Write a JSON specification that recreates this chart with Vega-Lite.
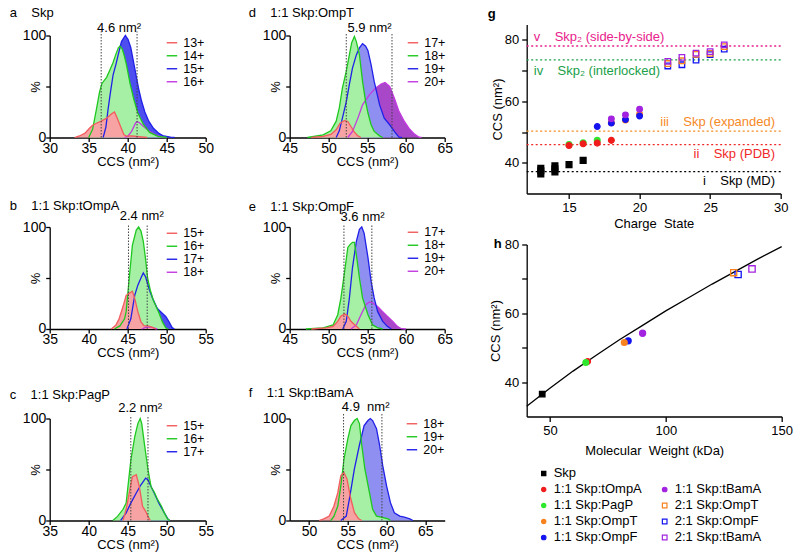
{
"$schema": "https://vega.github.io/schema/vega-lite/v6.json",
"padding": {"left": 9.7, "top": 6.5, "right": 2, "bottom": 2},
"background": "white",
"config": {
 "font": "Liberation Sans",
 "view": {"stroke": null},
 "axis": {"grid": false, "domainColor": "#000", "tickColor": "#000", "labelColor": "#000", "titleColor": "#000", "domainWidth": 1.3, "tickWidth": 1.3, "tickSize": 4, "labelFontSize": 14, "titleFontSize": 13, "titleFontWeight": "normal", "labelPadding": 0, "labelFlush": false, "labelOverlap": false, "labelFont": "Liberation Sans", "titleFont": "Liberation Sans"},
 "axisX": {"titlePadding": 0},
 "axisY": {"titlePadding": -20},
 "title": {"font": "Liberation Sans", "fontSize": 13, "fontWeight": "normal", "color": "#000", "anchor": "start", "baseline": "alphabetic", "frame": "group"},
 "legend": {"symbolType": "stroke", "symbolStrokeWidth": 1.4, "symbolSize": 110, "labelFontSize": 12.5, "labelFont": "Liberation Sans", "labelColor": "#000", "padding": 0, "labelOffset": 5},
 "text": {"font": "Liberation Sans", "fontSize": 13, "color": "#000"}
},
"datasets": {
 "ca": [
  {"x":39.6,"p":0,"z":"16+"},{"x":40.0,"p":1,"z":"16+"},{"x":40.5,"p":6,"z":"16+"},{"x":41.0,"p":14,"z":"16+"},{"x":41.2,"p":15.6,"z":"16+"},{"x":41.5,"p":14.5,"z":"16+"},{"x":42.0,"p":11,"z":"16+"},{"x":42.8,"p":6,"z":"16+"},{"x":43.7,"p":2,"z":"16+"},{"x":44.3,"p":0.5,"z":"16+"},{"x":45.0,"p":0,"z":"16+"},
  {"x":36.85,"p":0,"z":"15+"},{"x":37.2,"p":10,"z":"15+"},{"x":37.5,"p":28.6,"z":"15+"},{"x":37.8,"p":45,"z":"15+"},{"x":38.13,"p":61.5,"z":"15+"},{"x":38.5,"p":72,"z":"15+"},{"x":38.78,"p":81,"z":"15+"},{"x":39.2,"p":94,"z":"15+"},{"x":39.7,"p":100,"z":"15+"},{"x":40.05,"p":96,"z":"15+"},{"x":40.4,"p":88,"z":"15+"},{"x":40.8,"p":72,"z":"15+"},{"x":41.1,"p":60,"z":"15+"},{"x":41.4,"p":48,"z":"15+"},{"x":41.8,"p":35,"z":"15+"},{"x":42.2,"p":25,"z":"15+"},{"x":42.7,"p":16,"z":"15+"},{"x":43.3,"p":9,"z":"15+"},{"x":44.0,"p":4,"z":"15+"},{"x":44.6,"p":1.5,"z":"15+"},{"x":45.5,"p":0.3,"z":"15+"},{"x":46.0,"p":0,"z":"15+"},
  {"x":35.0,"p":0,"z":"14+"},{"x":35.5,"p":8,"z":"14+"},{"x":36.0,"p":28,"z":"14+"},{"x":36.4,"p":45,"z":"14+"},{"x":36.7,"p":53,"z":"14+"},{"x":37.0,"p":56,"z":"14+"},{"x":37.3,"p":59,"z":"14+"},{"x":37.7,"p":66,"z":"14+"},{"x":38.1,"p":73,"z":"14+"},{"x":38.5,"p":82,"z":"14+"},{"x":38.8,"p":88,"z":"14+"},{"x":39.0,"p":89.5,"z":"14+"},{"x":39.3,"p":87,"z":"14+"},{"x":39.6,"p":79,"z":"14+"},{"x":39.85,"p":71,"z":"14+"},{"x":40.3,"p":53,"z":"14+"},{"x":40.8,"p":37,"z":"14+"},{"x":41.3,"p":24,"z":"14+"},{"x":42.0,"p":13,"z":"14+"},{"x":42.8,"p":5,"z":"14+"},{"x":43.9,"p":1.2,"z":"14+"},{"x":45.0,"p":0,"z":"14+"},
  {"x":33.2,"p":0,"z":"13+"},{"x":33.8,"p":1.5,"z":"13+"},{"x":34.5,"p":4,"z":"13+"},{"x":35.1,"p":9,"z":"13+"},{"x":35.5,"p":12,"z":"13+"},{"x":36.0,"p":14,"z":"13+"},{"x":36.6,"p":16,"z":"13+"},{"x":37.3,"p":19,"z":"13+"},{"x":37.9,"p":23,"z":"13+"},{"x":38.3,"p":25,"z":"13+"},{"x":38.6,"p":20,"z":"13+"},{"x":39.1,"p":10.5,"z":"13+"},{"x":39.5,"p":3,"z":"13+"},{"x":39.85,"p":1.3,"z":"13+"},{"x":40.5,"p":1.5,"z":"13+"},{"x":41.2,"p":1,"z":"13+"},{"x":42.5,"p":0,"z":"13+"}
 ],
 "cb": [
  {"x":46.8,"p":0,"z":"18+"},{"x":47.3,"p":1.5,"z":"18+"},{"x":47.8,"p":2,"z":"18+"},{"x":48.3,"p":1,"z":"18+"},{"x":48.8,"p":0,"z":"18+"},
  {"x":44.9,"p":0,"z":"17+"},{"x":45.4,"p":10,"z":"17+"},{"x":45.9,"p":33,"z":"17+"},{"x":46.3,"p":43,"z":"17+"},{"x":46.7,"p":50,"z":"17+"},{"x":47.0,"p":55,"z":"17+"},{"x":47.3,"p":51,"z":"17+"},{"x":47.8,"p":38,"z":"17+"},{"x":48.2,"p":30,"z":"17+"},{"x":48.8,"p":20,"z":"17+"},{"x":49.5,"p":15,"z":"17+"},{"x":49.9,"p":12,"z":"17+"},{"x":50.3,"p":7,"z":"17+"},{"x":50.7,"p":1.3,"z":"17+"},{"x":51.0,"p":0,"z":"17+"},
  {"x":43.3,"p":0,"z":"16+"},{"x":44.0,"p":3,"z":"16+"},{"x":44.6,"p":10,"z":"16+"},{"x":44.8,"p":17,"z":"16+"},{"x":45.2,"p":50,"z":"16+"},{"x":45.6,"p":82,"z":"16+"},{"x":46.1,"p":97,"z":"16+"},{"x":46.4,"p":100,"z":"16+"},{"x":46.7,"p":96,"z":"16+"},{"x":47.0,"p":86,"z":"16+"},{"x":47.3,"p":68,"z":"16+"},{"x":47.55,"p":50,"z":"16+"},{"x":47.9,"p":38,"z":"16+"},{"x":48.3,"p":28,"z":"16+"},{"x":48.7,"p":21,"z":"16+"},{"x":49.0,"p":16,"z":"16+"},{"x":49.45,"p":7,"z":"16+"},{"x":49.9,"p":1,"z":"16+"},{"x":50.2,"p":0,"z":"16+"},
  {"x":42.9,"p":0,"z":"15+"},{"x":43.5,"p":4,"z":"15+"},{"x":43.9,"p":10,"z":"15+"},{"x":44.4,"p":22,"z":"15+"},{"x":44.8,"p":33,"z":"15+"},{"x":45.2,"p":35,"z":"15+"},{"x":45.6,"p":37,"z":"15+"},{"x":45.9,"p":30,"z":"15+"},{"x":46.3,"p":17,"z":"15+"},{"x":46.7,"p":7,"z":"15+"},{"x":47.1,"p":3,"z":"15+"},{"x":47.6,"p":3,"z":"15+"},{"x":48.2,"p":1.6,"z":"15+"},{"x":48.6,"p":0,"z":"15+"}
 ],
 "cc": [
  {"x":44.1,"p":0,"z":"17+"},{"x":44.8,"p":7.5,"z":"17+"},{"x":45.4,"p":17,"z":"17+"},{"x":46.1,"p":27,"z":"17+"},{"x":46.7,"p":35,"z":"17+"},{"x":47.3,"p":41.5,"z":"17+"},{"x":47.6,"p":40,"z":"17+"},{"x":48.0,"p":33,"z":"17+"},{"x":48.4,"p":27,"z":"17+"},{"x":49.0,"p":17,"z":"17+"},{"x":49.7,"p":7.5,"z":"17+"},{"x":50.2,"p":1,"z":"17+"},{"x":50.4,"p":0,"z":"17+"},
  {"x":43.1,"p":0,"z":"16+"},{"x":43.7,"p":4,"z":"16+"},{"x":44.4,"p":11,"z":"16+"},{"x":44.8,"p":17,"z":"16+"},{"x":45.4,"p":59,"z":"16+"},{"x":45.9,"p":82,"z":"16+"},{"x":46.3,"p":95,"z":"16+"},{"x":46.6,"p":100,"z":"16+"},{"x":46.8,"p":95,"z":"16+"},{"x":47.2,"p":72,"z":"16+"},{"x":47.6,"p":50,"z":"16+"},{"x":48.0,"p":33,"z":"16+"},{"x":48.4,"p":28,"z":"16+"},{"x":48.8,"p":21,"z":"16+"},{"x":49.3,"p":14.5,"z":"16+"},{"x":49.7,"p":7.5,"z":"16+"},{"x":50.1,"p":1.6,"z":"16+"},{"x":50.4,"p":0,"z":"16+"},
  {"x":44.4,"p":0,"z":"15+"},{"x":44.8,"p":11,"z":"15+"},{"x":45.2,"p":27,"z":"15+"},{"x":45.6,"p":43,"z":"15+"},{"x":46.1,"p":45,"z":"15+"},{"x":46.5,"p":33,"z":"15+"},{"x":46.9,"p":14,"z":"15+"},{"x":47.3,"p":9,"z":"15+"},{"x":47.7,"p":2.6,"z":"15+"},{"x":47.9,"p":0,"z":"15+"}
 ],
 "cd": [
  {"x":52.5,"p":0,"z":"20+"},{"x":53.1,"p":6,"z":"20+"},{"x":53.8,"p":19,"z":"20+"},{"x":54.4,"p":32,"z":"20+"},{"x":55.3,"p":42,"z":"20+"},{"x":56.1,"p":48.5,"z":"20+"},{"x":56.8,"p":52.5,"z":"20+"},{"x":57.3,"p":54,"z":"20+"},{"x":57.9,"p":50,"z":"20+"},{"x":58.5,"p":38.7,"z":"20+"},{"x":59.1,"p":25.6,"z":"20+"},{"x":59.8,"p":15.7,"z":"20+"},{"x":60.4,"p":9,"z":"20+"},{"x":61.1,"p":3.3,"z":"20+"},{"x":61.7,"p":0.3,"z":"20+"},{"x":62.0,"p":0,"z":"20+"},
  {"x":51.0,"p":0,"z":"19+"},{"x":51.4,"p":6.5,"z":"19+"},{"x":51.8,"p":19,"z":"19+"},{"x":52.3,"p":35,"z":"19+"},{"x":52.7,"p":52,"z":"19+"},{"x":53.1,"p":68,"z":"19+"},{"x":53.6,"p":81,"z":"19+"},{"x":54.0,"p":88,"z":"19+"},{"x":54.4,"p":92,"z":"19+"},{"x":54.8,"p":89.5,"z":"19+"},{"x":55.1,"p":85,"z":"19+"},{"x":55.5,"p":71.5,"z":"19+"},{"x":55.9,"p":55,"z":"19+"},{"x":56.6,"p":32,"z":"19+"},{"x":57.2,"p":19,"z":"19+"},{"x":57.9,"p":12.5,"z":"19+"},{"x":58.5,"p":6,"z":"19+"},{"x":59.1,"p":0.3,"z":"19+"},{"x":59.5,"p":0,"z":"19+"},
  {"x":47.3,"p":0,"z":"18+"},{"x":49.3,"p":2.6,"z":"18+"},{"x":50.3,"p":6.5,"z":"18+"},{"x":51.0,"p":16,"z":"18+"},{"x":51.4,"p":29,"z":"18+"},{"x":51.8,"p":48.5,"z":"18+"},{"x":52.3,"p":65,"z":"18+"},{"x":52.7,"p":81,"z":"18+"},{"x":53.0,"p":93,"z":"18+"},{"x":53.35,"p":99,"z":"18+"},{"x":53.6,"p":94,"z":"18+"},{"x":54.0,"p":81,"z":"18+"},{"x":54.4,"p":55,"z":"18+"},{"x":54.8,"p":35,"z":"18+"},{"x":55.1,"p":24,"z":"18+"},{"x":55.5,"p":12.5,"z":"18+"},{"x":55.9,"p":6,"z":"18+"},{"x":56.6,"p":1.6,"z":"18+"},{"x":57.0,"p":0,"z":"18+"},
  {"x":47.8,"p":0,"z":"17+"},{"x":49.3,"p":1,"z":"17+"},{"x":50.3,"p":3,"z":"17+"},{"x":51.0,"p":7.5,"z":"17+"},{"x":51.5,"p":14,"z":"17+"},{"x":52.1,"p":16.7,"z":"17+"},{"x":52.5,"p":15.7,"z":"17+"},{"x":52.9,"p":10.8,"z":"17+"},{"x":53.35,"p":5.2,"z":"17+"},{"x":53.8,"p":1.6,"z":"17+"},{"x":54.2,"p":0,"z":"17+"}
 ],
 "ce": [
  {"x":52.9,"p":0,"z":"20+"},{"x":53.6,"p":4,"z":"20+"},{"x":54.2,"p":14,"z":"20+"},{"x":54.85,"p":24,"z":"20+"},{"x":55.3,"p":26.5,"z":"20+"},{"x":55.7,"p":25.6,"z":"20+"},{"x":56.35,"p":22,"z":"20+"},{"x":57.0,"p":17,"z":"20+"},{"x":57.6,"p":12.5,"z":"20+"},{"x":58.3,"p":7.5,"z":"20+"},{"x":58.9,"p":2.6,"z":"20+"},{"x":59.4,"p":0.3,"z":"20+"},{"x":60.0,"p":0,"z":"20+"},
  {"x":51.85,"p":0,"z":"19+"},{"x":52.3,"p":7.5,"z":"19+"},{"x":52.7,"p":30,"z":"19+"},{"x":53.1,"p":60,"z":"19+"},{"x":53.6,"p":86,"z":"19+"},{"x":54.0,"p":97.7,"z":"19+"},{"x":54.3,"p":100,"z":"19+"},{"x":54.6,"p":94,"z":"19+"},{"x":55.1,"p":70,"z":"19+"},{"x":55.5,"p":47,"z":"19+"},{"x":55.9,"p":30.5,"z":"19+"},{"x":56.35,"p":17,"z":"19+"},{"x":57.0,"p":7.5,"z":"19+"},{"x":57.6,"p":2.6,"z":"19+"},{"x":58.1,"p":0,"z":"19+"},
  {"x":47.1,"p":0,"z":"18+"},{"x":49.3,"p":1,"z":"18+"},{"x":50.6,"p":4,"z":"18+"},{"x":51.2,"p":14,"z":"18+"},{"x":51.6,"p":30,"z":"18+"},{"x":52.1,"p":57,"z":"18+"},{"x":52.5,"p":80,"z":"18+"},{"x":52.8,"p":83,"z":"18+"},{"x":53.1,"p":85,"z":"18+"},{"x":53.35,"p":85,"z":"18+"},{"x":53.6,"p":73,"z":"18+"},{"x":54.0,"p":50,"z":"18+"},{"x":54.4,"p":30.5,"z":"18+"},{"x":55.1,"p":14,"z":"18+"},{"x":55.7,"p":4,"z":"18+"},{"x":56.4,"p":1,"z":"18+"},{"x":57.0,"p":0,"z":"18+"},
  {"x":47.8,"p":0,"z":"17+"},{"x":49.7,"p":1,"z":"17+"},{"x":50.6,"p":2.6,"z":"17+"},{"x":51.2,"p":7.5,"z":"17+"},{"x":51.6,"p":12.5,"z":"17+"},{"x":52.1,"p":14.8,"z":"17+"},{"x":52.5,"p":12.5,"z":"17+"},{"x":52.9,"p":7.5,"z":"17+"},{"x":53.6,"p":2.6,"z":"17+"},{"x":54.0,"p":0,"z":"17+"}
 ],
 "cf": [
  {"x":54.1,"p":0,"z":"20+"},{"x":54.8,"p":4.3,"z":"20+"},{"x":55.2,"p":21,"z":"20+"},{"x":55.85,"p":50.5,"z":"20+"},{"x":56.5,"p":74,"z":"20+"},{"x":57.1,"p":93,"z":"20+"},{"x":57.6,"p":98,"z":"20+"},{"x":57.9,"p":100,"z":"20+"},{"x":58.2,"p":98,"z":"20+"},{"x":58.7,"p":90,"z":"20+"},{"x":59.1,"p":74,"z":"20+"},{"x":59.5,"p":54,"z":"20+"},{"x":60.0,"p":34,"z":"20+"},{"x":60.5,"p":17.5,"z":"20+"},{"x":61.0,"p":7.6,"z":"20+"},{"x":61.7,"p":4.3,"z":"20+"},{"x":62.3,"p":3.3,"z":"20+"},{"x":63.0,"p":1.6,"z":"20+"},{"x":63.4,"p":0,"z":"20+"},
  {"x":52.8,"p":0,"z":"19+"},{"x":53.2,"p":4,"z":"19+"},{"x":53.7,"p":14,"z":"19+"},{"x":54.1,"p":34,"z":"19+"},{"x":54.5,"p":60,"z":"19+"},{"x":55.0,"p":80,"z":"19+"},{"x":55.4,"p":93,"z":"19+"},{"x":55.85,"p":98,"z":"19+"},{"x":56.2,"p":100,"z":"19+"},{"x":56.5,"p":95,"z":"19+"},{"x":56.8,"p":74,"z":"19+"},{"x":57.2,"p":50.5,"z":"19+"},{"x":57.8,"p":27,"z":"19+"},{"x":58.2,"p":11,"z":"19+"},{"x":58.7,"p":4.3,"z":"19+"},{"x":59.3,"p":3.3,"z":"19+"},{"x":60.2,"p":1.6,"z":"19+"},{"x":60.5,"p":0,"z":"19+"},
  {"x":51.3,"p":0,"z":"18+"},{"x":51.9,"p":1.6,"z":"18+"},{"x":52.6,"p":4.3,"z":"18+"},{"x":53.2,"p":14,"z":"18+"},{"x":53.7,"p":27,"z":"18+"},{"x":54.1,"p":44,"z":"18+"},{"x":54.5,"p":47,"z":"18+"},{"x":54.9,"p":40.6,"z":"18+"},{"x":55.3,"p":24,"z":"18+"},{"x":55.85,"p":7.6,"z":"18+"},{"x":56.4,"p":1.6,"z":"18+"},{"x":56.8,"p":0,"z":"18+"}
 ],
 "refs": [
  {"ref":"i","y":37.1,"label":"i\u00a0\u00a0\u00a0 Skp (MD)","lx":29.6,"ly":34.0},
  {"ref":"ii","y":45.9,"label":"ii\u00a0\u00a0\u00a0 Skp (PDB)","lx":29.6,"ly":42.7},
  {"ref":"iii","y":50.3,"label":"iii\u00a0\u00a0\u00a0 Skp (expanded)","lx":29.6,"ly":53.4},
  {"ref":"iv","y":73.5,"label":"iv\u00a0\u00a0\u00a0 Skp\u2082 (interlocked)","lx":12.5,"ly":70.0},
  {"ref":"v","y":78.0,"label":"v\u00a0\u00a0\u00a0 Skp\u2082 (side-by-side)","lx":12.5,"ly":80.8}
 ],
 "gp": [
  {"cs":13,"ccs":36.4,"s":"Skp"},{"cs":13,"ccs":37.4,"s":"Skp"},{"cs":13,"ccs":38.2,"s":"Skp"},{"cs":14,"ccs":37.0,"s":"Skp"},{"cs":14,"ccs":38.0,"s":"Skp"},{"cs":14,"ccs":39.0,"s":"Skp"},{"cs":15,"ccs":39.4,"s":"Skp"},{"cs":16,"ccs":40.8,"s":"Skp"},
  {"cs":15,"ccs":45.9,"s":"1:1 Skp:PagP"},{"cs":16,"ccs":46.5,"s":"1:1 Skp:PagP"},{"cs":17,"ccs":47.3,"s":"1:1 Skp:PagP"},
  {"cs":15,"ccs":45.6,"s":"1:1 Skp:tOmpA"},{"cs":16,"ccs":46.2,"s":"1:1 Skp:tOmpA"},{"cs":17,"ccs":46.4,"s":"1:1 Skp:tOmpA"},{"cs":18,"ccs":47.3,"s":"1:1 Skp:tOmpA"},
  {"cs":18,"ccs":53.0,"s":"1:1 Skp:OmpT"},{"cs":19,"ccs":53.9,"s":"1:1 Skp:OmpT"},{"cs":20,"ccs":55.8,"s":"1:1 Skp:OmpT"},
  {"cs":17,"ccs":51.8,"s":"1:1 Skp:OmpF"},{"cs":18,"ccs":52.9,"s":"1:1 Skp:OmpF"},{"cs":19,"ccs":54.1,"s":"1:1 Skp:OmpF"},{"cs":20,"ccs":55.2,"s":"1:1 Skp:OmpF"},
  {"cs":18,"ccs":54.3,"s":"1:1 Skp:tBamA"},{"cs":19,"ccs":55.6,"s":"1:1 Skp:tBamA"},{"cs":20,"ccs":57.4,"s":"1:1 Skp:tBamA"},
  {"cs":22,"ccs":71.5,"s":"2:1 Skp:OmpF"},{"cs":23,"ccs":71.9,"s":"2:1 Skp:OmpF"},{"cs":24,"ccs":73.4,"s":"2:1 Skp:OmpF"},{"cs":25,"ccs":75.2,"s":"2:1 Skp:OmpF"},{"cs":26,"ccs":77.0,"s":"2:1 Skp:OmpF"},
  {"cs":22,"ccs":72.3,"s":"2:1 Skp:OmpT"},{"cs":23,"ccs":73.2,"s":"2:1 Skp:OmpT"},{"cs":24,"ccs":75.3,"s":"2:1 Skp:OmpT"},{"cs":25,"ccs":75.6,"s":"2:1 Skp:OmpT"},{"cs":26,"ccs":77.8,"s":"2:1 Skp:OmpT"},
  {"cs":22,"ccs":73.0,"s":"2:1 Skp:tBamA"},{"cs":23,"ccs":74.3,"s":"2:1 Skp:tBamA"},{"cs":24,"ccs":75.7,"s":"2:1 Skp:tBamA"},{"cs":25,"ccs":76.2,"s":"2:1 Skp:tBamA"},{"cs":26,"ccs":78.4,"s":"2:1 Skp:tBamA"}
 ],
 "hc": [
  {"mw":40,"ccs":33.0},{"mw":50,"ccs":38.2},{"mw":60,"ccs":43.2},{"mw":70,"ccs":47.8},{"mw":80,"ccs":52.3},{"mw":90,"ccs":56.5},{"mw":100,"ccs":60.7},{"mw":110,"ccs":64.6},{"mw":120,"ccs":68.5},{"mw":130,"ccs":72.2},{"mw":140,"ccs":75.9},{"mw":150,"ccs":79.4}
 ],
 "hp": [
  {"mw":46.7,"ccs":36.5,"s":"Skp"},{"mw":66.3,"ccs":46.0,"s":"1:1 Skp:tOmpA"},{"mw":65.5,"ccs":45.7,"s":"1:1 Skp:PagP"},{"mw":83.8,"ccs":52.0,"s":"1:1 Skp:OmpF"},{"mw":82.1,"ccs":51.5,"s":"1:1 Skp:OmpT"},{"mw":90.0,"ccs":54.2,"s":"1:1 Skp:tBamA"},{"mw":131.2,"ccs":71.3,"s":"2:1 Skp:OmpF"},{"mw":129.3,"ccs":71.8,"s":"2:1 Skp:OmpT"},{"mw":137.2,"ccs":72.9,"s":"2:1 Skp:tBamA"}
 ],
 "leg": [
  {"s":"Skp","col":"1","row":"1"},{"s":"1:1 Skp:tOmpA","col":"1","row":"2"},{"s":"1:1 Skp:PagP","col":"1","row":"3"},{"s":"1:1 Skp:OmpT","col":"1","row":"4"},{"s":"1:1 Skp:OmpF","col":"1","row":"5"},
  {"s":"1:1 Skp:tBamA","col":"2","row":"2"},{"s":"2:1 Skp:OmpT","col":"2","row":"3"},{"s":"2:1 Skp:OmpF","col":"2","row":"4"},{"s":"2:1 Skp:tBamA","col":"2","row":"5"}
 ]
},
"spacing": 35,
"resolve": {"scale": {"stroke": "independent", "color": "independent", "fill": "independent", "shape": "independent", "size": "independent"}},
"hconcat": [
 {"vconcat": [
  {"width": 156, "height": 113,
   "title": {"text": "a\u00a0\u00a0\u00a0 Skp", "dx": -40, "offset": 2},
   "data": {"name": "ca"},
   "encoding": {
    "x": {"field": "x", "type": "quantitative", "scale": {"domain": [30, 50], "nice": false, "zero": false}, "axis": {"values": [30, 35, 40, 45, 50], "title": "CCS (nm²)"}},
    "y": {"field": "p", "type": "quantitative", "stack": null, "scale": {"domain": [0, 100], "nice": false, "range": [113, 11]}, "axis": {"values": [0, 50, 100], "labelExpr": "datum.value == 50 ? '' : datum.label", "title": "%"}}},
   "layer": [
    {"transform": [{"filter": "datum.z == '16+'"}], "mark": {"type": "area", "fill": "#a847c8"}},
    {"transform": [{"filter": "datum.z == '15+'"}], "mark": {"type": "area", "fill": "#4d4df0"}},
    {"transform": [{"filter": "datum.z == '14+'"}], "mark": {"type": "area", "fill": "#a5f0a5"}},
    {"transform": [{"filter": "datum.z == '13+'"}], "mark": {"type": "area", "fill": "#f7a3a3"}},
    {"mark": {"type": "line", "strokeWidth": 1.3}, "encoding": {"stroke": {"field": "z", "type": "nominal", "scale": {"domain": ["13+", "14+", "15+", "16+"], "range": ["#f25c5c", "#1ec81e", "#2020e8", "#c23ae0"]}, "legend": {"title": null, "orient": "none", "legendX": 116, "legendY": 12, "rowPadding": -2}}}},
    {"data": {"values": [{"x": 36.6, "p": 0, "p2": 104}, {"x": 41.2, "p": 0, "p2": 104}]}, "mark": {"type": "rule", "strokeDash": [1.5, 1.5], "color": "#444", "strokeWidth": 1}, "encoding": {"y2": {"field": "p2"}}},
    {"data": {"values": [{"x": 38.9, "p": 107, "t": "4.6 nm²"}]}, "mark": {"type": "text", "fontSize": 13}, "encoding": {"text": {"field": "t"}}}
   ]},
  {"width": 156, "height": 102,
   "title": {"text": "b\u00a0\u00a0\u00a0 1:1 Skp:tOmpA", "dx": -40, "offset": -3},
   "data": {"name": "cb"},
   "encoding": {
    "x": {"field": "x", "type": "quantitative", "scale": {"domain": [35, 55], "nice": false, "zero": false}, "axis": {"values": [35, 40, 45, 50, 55], "title": "CCS (nm²)"}},
    "y": {"field": "p", "type": "quantitative", "stack": null, "scale": {"domain": [0, 100], "nice": false}, "axis": {"values": [0, 50, 100], "labelExpr": "datum.value == 50 ? '' : datum.label", "title": "%"}}},
   "layer": [
    {"transform": [{"filter": "datum.z == '18+'"}], "mark": {"type": "area", "fill": "#a847c8"}},
    {"transform": [{"filter": "datum.z == '17+'"}], "mark": {"type": "area", "fill": "#4d4df0"}},
    {"transform": [{"filter": "datum.z == '16+'"}], "mark": {"type": "area", "fill": "#a5f0a5"}},
    {"transform": [{"filter": "datum.z == '15+'"}], "mark": {"type": "area", "fill": "#f7a3a3"}},
    {"mark": {"type": "line", "strokeWidth": 1.3}, "encoding": {"stroke": {"field": "z", "type": "nominal", "scale": {"domain": ["15+", "16+", "17+", "18+"], "range": ["#f25c5c", "#1ec81e", "#2020e8", "#c23ae0"]}, "legend": {"title": null, "orient": "none", "legendX": 116, "legendY": 0, "rowPadding": -2}}}},
    {"data": {"values": [{"x": 45.1, "p": 0, "p2": 102}, {"x": 47.5, "p": 0, "p2": 102}]}, "mark": {"type": "rule", "strokeDash": [1.5, 1.5], "color": "#444", "strokeWidth": 1}, "encoding": {"y2": {"field": "p2"}}},
    {"data": {"values": [{"x": 46.8, "p": 111, "t": "2.4 nm²"}]}, "mark": {"type": "text", "fontSize": 13}, "encoding": {"text": {"field": "t"}}}
   ]},
  {"width": 156, "height": 102,
   "title": {"text": "c\u00a0\u00a0\u00a0 1:1 Skp:PagP", "dx": -40, "offset": 0},
   "data": {"name": "cc"},
   "encoding": {
    "x": {"field": "x", "type": "quantitative", "scale": {"domain": [35, 55], "nice": false, "zero": false}, "axis": {"values": [35, 40, 45, 50, 55], "title": "CCS (nm²)"}},
    "y": {"field": "p", "type": "quantitative", "stack": null, "scale": {"domain": [0, 100], "nice": false}, "axis": {"values": [0, 50, 100], "labelExpr": "datum.value == 50 ? '' : datum.label", "title": "%"}}},
   "layer": [
    {"transform": [{"filter": "datum.z == '17+'"}], "mark": {"type": "area", "fill": "#4d4df0"}},
    {"transform": [{"filter": "datum.z == '16+'"}], "mark": {"type": "area", "fill": "#a5f0a5"}},
    {"transform": [{"filter": "datum.z == '15+'"}], "mark": {"type": "area", "fill": "#f7a3a3"}},
    {"mark": {"type": "line", "strokeWidth": 1.3}, "encoding": {"stroke": {"field": "z", "type": "nominal", "scale": {"domain": ["15+", "16+", "17+"], "range": ["#f25c5c", "#1ec81e", "#2020e8"]}, "legend": {"title": null, "orient": "none", "legendX": 116, "legendY": 1, "rowPadding": -2}}}},
    {"data": {"values": [{"x": 45.4, "p": 0, "p2": 103}, {"x": 47.6, "p": 0, "p2": 103}]}, "mark": {"type": "rule", "strokeDash": [1.5, 1.5], "color": "#444", "strokeWidth": 1}, "encoding": {"y2": {"field": "p2"}}},
    {"data": {"values": [{"x": 46.6, "p": 110, "t": "2.2 nm²"}]}, "mark": {"type": "text", "fontSize": 13}, "encoding": {"text": {"field": "t"}}}
   ]}
 ], "spacing": 89.5, "bounds": "flush", "resolve": {"scale": {"stroke": "independent", "color": "independent", "fill": "independent", "shape": "independent", "size": "independent"}}},
 {"vconcat": [
  {"width": 155, "height": 113,
   "title": {"text": "d\u00a0\u00a0\u00a0 1:1 Skp:OmpT", "dx": -41, "offset": 2},
   "data": {"name": "cd"},
   "encoding": {
    "x": {"field": "x", "type": "quantitative", "scale": {"domain": [45, 65], "nice": false, "zero": false}, "axis": {"values": [45, 50, 55, 60, 65], "title": "CCS (nm²)"}},
    "y": {"field": "p", "type": "quantitative", "stack": null, "scale": {"domain": [0, 100], "nice": false, "range": [113, 11]}, "axis": {"values": [0, 50, 100], "labelExpr": "datum.value == 50 ? '' : datum.label", "title": "%"}}},
   "layer": [
    {"transform": [{"filter": "datum.z == '20+'"}], "mark": {"type": "area", "fill": "#a847c8"}},
    {"transform": [{"filter": "datum.z == '19+'"}], "mark": {"type": "area", "fill": "#8f8ff2"}},
    {"transform": [{"filter": "datum.z == '18+'"}], "mark": {"type": "area", "fill": "#a5f0a5"}},
    {"transform": [{"filter": "datum.z == '17+'"}], "mark": {"type": "area", "fill": "#f7a3a3"}},
    {"mark": {"type": "line", "strokeWidth": 1.3}, "encoding": {"stroke": {"field": "z", "type": "nominal", "scale": {"domain": ["17+", "18+", "19+", "20+"], "range": ["#f25c5c", "#1ec81e", "#2020e8", "#c23ae0"]}, "legend": {"title": null, "orient": "none", "legendX": 117, "legendY": 12, "rowPadding": -2}}}},
    {"data": {"values": [{"x": 52.3, "p": 0, "p2": 102}, {"x": 58.2, "p": 0, "p2": 102}]}, "mark": {"type": "rule", "strokeDash": [1.5, 1.5], "color": "#444", "strokeWidth": 1}, "encoding": {"y2": {"field": "p2"}}},
    {"data": {"values": [{"x": 55.3, "p": 107, "t": "5.9 nm²"}]}, "mark": {"type": "text", "fontSize": 13}, "encoding": {"text": {"field": "t"}}}
   ]},
  {"width": 155, "height": 102,
   "title": {"text": "e\u00a0\u00a0\u00a0 1:1 Skp:OmpF", "dx": -41, "offset": -3},
   "data": {"name": "ce"},
   "encoding": {
    "x": {"field": "x", "type": "quantitative", "scale": {"domain": [45, 65], "nice": false, "zero": false}, "axis": {"values": [45, 50, 55, 60, 65], "title": "CCS (nm²)"}},
    "y": {"field": "p", "type": "quantitative", "stack": null, "scale": {"domain": [0, 100], "nice": false}, "axis": {"values": [0, 50, 100], "labelExpr": "datum.value == 50 ? '' : datum.label", "title": "%"}}},
   "layer": [
    {"transform": [{"filter": "datum.z == '20+'"}], "mark": {"type": "area", "fill": "#a847c8"}},
    {"transform": [{"filter": "datum.z == '19+'"}], "mark": {"type": "area", "fill": "#8f8ff2"}},
    {"transform": [{"filter": "datum.z == '18+'"}], "mark": {"type": "area", "fill": "#a5f0a5"}},
    {"transform": [{"filter": "datum.z == '17+'"}], "mark": {"type": "area", "fill": "#f7a3a3"}},
    {"mark": {"type": "line", "strokeWidth": 1.3}, "encoding": {"stroke": {"field": "z", "type": "nominal", "scale": {"domain": ["17+", "18+", "19+", "20+"], "range": ["#f25c5c", "#1ec81e", "#2020e8", "#c23ae0"]}, "legend": {"title": null, "orient": "none", "legendX": 117, "legendY": -1, "rowPadding": -2}}}},
    {"data": {"values": [{"x": 52.0, "p": 0, "p2": 103}, {"x": 55.6, "p": 0, "p2": 103}]}, "mark": {"type": "rule", "strokeDash": [1.5, 1.5], "color": "#444", "strokeWidth": 1}, "encoding": {"y2": {"field": "p2"}}},
    {"data": {"values": [{"x": 54.4, "p": 110, "t": "3.6 nm²"}]}, "mark": {"type": "text", "fontSize": 13}, "encoding": {"text": {"field": "t"}}}
   ]},
  {"width": 155, "height": 102,
   "title": {"text": "f\u00a0\u00a0\u00a0 1:1 Skp:tBamA", "dx": -41, "offset": 1},
   "data": {"name": "cf"},
   "encoding": {
    "x": {"field": "x", "type": "quantitative", "scale": {"domain": [47.5, 67.5], "nice": false, "zero": false}, "axis": {"values": [50, 55, 60, 65], "title": "CCS (nm²)"}},
    "y": {"field": "p", "type": "quantitative", "stack": null, "scale": {"domain": [0, 100], "nice": false}, "axis": {"values": [0, 50, 100], "labelExpr": "datum.value == 50 ? '' : datum.label", "title": "%"}}},
   "layer": [
    {"transform": [{"filter": "datum.z == '20+'"}], "mark": {"type": "area", "fill": "#8f8ff2"}},
    {"transform": [{"filter": "datum.z == '19+'"}], "mark": {"type": "area", "fill": "#a5f0a5"}},
    {"transform": [{"filter": "datum.z == '18+'"}], "mark": {"type": "area", "fill": "#f7a3a3"}},
    {"mark": {"type": "line", "strokeWidth": 1.3}, "encoding": {"stroke": {"field": "z", "type": "nominal", "scale": {"domain": ["18+", "19+", "20+"], "range": ["#f25c5c", "#1ec81e", "#2020e8"]}, "legend": {"title": null, "orient": "none", "legendX": 116, "legendY": -1, "rowPadding": -2}}}},
    {"data": {"values": [{"x": 54.45, "p": 0, "p2": 105}, {"x": 59.4, "p": 0, "p2": 105}]}, "mark": {"type": "rule", "strokeDash": [1.5, 1.5], "color": "#444", "strokeWidth": 1}, "encoding": {"y2": {"field": "p2"}}},
    {"data": {"values": [{"x": 57.3, "p": 111, "t": "4.9\u00a0 nm²"}]}, "mark": {"type": "text", "fontSize": 13}, "encoding": {"text": {"field": "t"}}}
   ]}
 ], "spacing": 89.5, "bounds": "flush", "resolve": {"scale": {"stroke": "independent", "color": "independent", "fill": "independent", "shape": "independent", "size": "independent"}}},
 {"vconcat": [
  {"width": 254, "height": 169,
   "title": {"text": "g", "dx": -39, "offset": 4, "fontWeight": "bold"},
   "layer": [
    {"data": {"name": "refs"}, "mark": {"type": "rule", "strokeDash": [2, 2.5], "strokeWidth": 1.3}, "encoding": {
      "y": {"field": "y", "type": "quantitative", "scale": {"domain": [30, 85], "nice": false, "zero": false}, "axis": {"values": [40, 50, 60, 70, 80], "labelExpr": "datum.value % 20 == 0 ? datum.label : ''", "title": "CCS (nm²)", "labelFontSize": 13, "tickSize": 5, "labelPadding": 3, "titlePadding": 0}},
      "color": {"field": "ref", "type": "nominal", "scale": {"domain": ["i", "ii", "iii", "iv", "v"], "range": ["#000000", "#f02828", "#f5891f", "#1aa04a", "#e8218c"]}, "legend": null}}},
    {"data": {"name": "refs"}, "transform": [{"filter": "datum.ref == 'iv' || datum.ref == 'v'"}], "mark": {"type": "text", "align": "left", "fontSize": 13}, "encoding": {
      "x": {"field": "lx", "type": "quantitative"}, "y": {"field": "ly", "type": "quantitative"}, "text": {"field": "label"}, "color": {"field": "ref", "type": "nominal"}}},
    {"data": {"name": "refs"}, "transform": [{"filter": "datum.ref != 'iv' && datum.ref != 'v'"}], "mark": {"type": "text", "align": "right", "fontSize": 13}, "encoding": {
      "x": {"field": "lx", "type": "quantitative"}, "y": {"field": "ly", "type": "quantitative"}, "text": {"field": "label"}, "color": {"field": "ref", "type": "nominal"}}},
    {"data": {"name": "gp"}, "mark": {"type": "point", "opacity": 1, "strokeWidth": 1.3}, "encoding": {
      "x": {"field": "cs", "type": "quantitative", "scale": {"domain": [12, 30], "nice": false, "zero": false}, "axis": {"values": [15, 20, 25, 30], "title": "Charge\u00a0 State", "labelFontSize": 13, "tickSize": 5, "labelPadding": 3, "titlePadding": 3}},
      "y": {"field": "ccs", "type": "quantitative"},
      "shape": {"field": "s", "type": "nominal", "scale": {"domain": ["Skp", "1:1 Skp:tOmpA", "1:1 Skp:PagP", "1:1 Skp:OmpT", "1:1 Skp:OmpF", "1:1 Skp:tBamA", "2:1 Skp:OmpT", "2:1 Skp:OmpF", "2:1 Skp:tBamA"], "range": ["square", "circle", "circle", "circle", "circle", "circle", "square", "square", "square"]}, "legend": null},
      "fill": {"field": "s", "type": "nominal", "scale": {"domain": ["Skp", "1:1 Skp:tOmpA", "1:1 Skp:PagP", "1:1 Skp:OmpT", "1:1 Skp:OmpF", "1:1 Skp:tBamA", "2:1 Skp:OmpT", "2:1 Skp:OmpF", "2:1 Skp:tBamA"], "range": ["#000000", "#f01c1c", "#2ee82e", "#f7821e", "#1414f0", "#a223e0", "transparent", "transparent", "transparent"]}, "legend": null},
      "stroke": {"field": "s", "type": "nominal", "scale": {"domain": ["Skp", "1:1 Skp:tOmpA", "1:1 Skp:PagP", "1:1 Skp:OmpT", "1:1 Skp:OmpF", "1:1 Skp:tBamA", "2:1 Skp:OmpT", "2:1 Skp:OmpF", "2:1 Skp:tBamA"], "range": ["#000000", "#f01c1c", "#2ee82e", "#f7821e", "#1414f0", "#a223e0", "#f7821e", "#1414f0", "#a223e0"]}, "legend": null},
      "size": {"field": "s", "type": "nominal", "scale": {"domain": ["Skp", "1:1 Skp:tOmpA", "1:1 Skp:PagP", "1:1 Skp:OmpT", "1:1 Skp:OmpF", "1:1 Skp:tBamA", "2:1 Skp:OmpT", "2:1 Skp:OmpF", "2:1 Skp:tBamA"], "range": [34, 30, 30, 30, 30, 30, 32, 32, 32]}, "legend": null}}}
   ]},
  {"width": 255, "height": 172,
   "title": {"text": "h", "dx": -33, "offset": -12, "fontWeight": "bold"},
   "layer": [
    {"data": {"name": "hc"}, "mark": {"type": "line", "color": "#000", "strokeWidth": 1.3}, "encoding": {
      "x": {"field": "mw", "type": "quantitative", "scale": {"domain": [40, 150], "nice": false, "zero": false}, "axis": {"values": [50, 100, 150], "title": "Molecular\u00a0 Weight (kDa)", "labelFontSize": 13, "tickSize": 5, "labelPadding": 3, "titlePadding": 7}},
      "y": {"field": "ccs", "type": "quantitative", "scale": {"domain": [30, 80], "nice": false, "zero": false}, "axis": {"values": [40, 50, 60, 70, 80], "labelExpr": "datum.value % 20 == 0 ? datum.label : ''", "title": "CCS (nm²)", "labelFontSize": 13, "tickSize": 5, "labelPadding": 3, "titlePadding": 2}}}},
    {"data": {"name": "hp"}, "mark": {"type": "point", "opacity": 1, "strokeWidth": 1.3}, "encoding": {
      "x": {"field": "mw", "type": "quantitative"},
      "y": {"field": "ccs", "type": "quantitative"},
      "shape": {"field": "s", "type": "nominal", "scale": {"domain": ["Skp", "1:1 Skp:tOmpA", "1:1 Skp:PagP", "1:1 Skp:OmpT", "1:1 Skp:OmpF", "1:1 Skp:tBamA", "2:1 Skp:OmpT", "2:1 Skp:OmpF", "2:1 Skp:tBamA"], "range": ["square", "circle", "circle", "circle", "circle", "circle", "square", "square", "square"]}, "legend": null},
      "fill": {"field": "s", "type": "nominal", "scale": {"domain": ["Skp", "1:1 Skp:tOmpA", "1:1 Skp:PagP", "1:1 Skp:OmpT", "1:1 Skp:OmpF", "1:1 Skp:tBamA", "2:1 Skp:OmpT", "2:1 Skp:OmpF", "2:1 Skp:tBamA"], "range": ["#000000", "#f01c1c", "#2ee82e", "#f7821e", "#1414f0", "#a223e0", "transparent", "transparent", "transparent"]}, "legend": null},
      "stroke": {"field": "s", "type": "nominal", "scale": {"domain": ["Skp", "1:1 Skp:tOmpA", "1:1 Skp:PagP", "1:1 Skp:OmpT", "1:1 Skp:OmpF", "1:1 Skp:tBamA", "2:1 Skp:OmpT", "2:1 Skp:OmpF", "2:1 Skp:tBamA"], "range": ["#000000", "#f01c1c", "#2ee82e", "#f7821e", "#1414f0", "#a223e0", "#f7821e", "#1414f0", "#a223e0"]}, "legend": null},
      "size": {"field": "s", "type": "nominal", "scale": {"domain": ["Skp", "1:1 Skp:tOmpA", "1:1 Skp:PagP", "1:1 Skp:OmpT", "1:1 Skp:OmpF", "1:1 Skp:tBamA", "2:1 Skp:OmpT", "2:1 Skp:OmpF", "2:1 Skp:tBamA"], "range": [30, 40, 40, 40, 40, 40, 60, 60, 60]}, "legend": null}}}
   ]},
  {"width": 255, "height": 76,
   "data": {"name": "leg"},
   "encoding": {
    "x": {"field": "col", "type": "ordinal", "scale": {"type": "point", "padding": 0.554, "align": 0.127}, "axis": null},
    "y": {"field": "row", "type": "ordinal", "scale": {"type": "point", "padding": 0.375}, "axis": null}},
   "layer": [
    {"mark": {"type": "point", "opacity": 1, "strokeWidth": 1.2}, "encoding": {
      "shape": {"field": "s", "type": "nominal", "scale": {"domain": ["Skp", "1:1 Skp:tOmpA", "1:1 Skp:PagP", "1:1 Skp:OmpT", "1:1 Skp:OmpF", "1:1 Skp:tBamA", "2:1 Skp:OmpT", "2:1 Skp:OmpF", "2:1 Skp:tBamA"], "range": ["square", "circle", "circle", "circle", "circle", "circle", "square", "square", "square"]}, "legend": null},
      "fill": {"field": "s", "type": "nominal", "scale": {"domain": ["Skp", "1:1 Skp:tOmpA", "1:1 Skp:PagP", "1:1 Skp:OmpT", "1:1 Skp:OmpF", "1:1 Skp:tBamA", "2:1 Skp:OmpT", "2:1 Skp:OmpF", "2:1 Skp:tBamA"], "range": ["#000000", "#f01c1c", "#2ee82e", "#f7821e", "#1414f0", "#a223e0", "transparent", "transparent", "transparent"]}, "legend": null},
      "stroke": {"field": "s", "type": "nominal", "scale": {"domain": ["Skp", "1:1 Skp:tOmpA", "1:1 Skp:PagP", "1:1 Skp:OmpT", "1:1 Skp:OmpF", "1:1 Skp:tBamA", "2:1 Skp:OmpT", "2:1 Skp:OmpF", "2:1 Skp:tBamA"], "range": ["#000000", "#f01c1c", "#2ee82e", "#f7821e", "#1414f0", "#a223e0", "#f7821e", "#1414f0", "#a223e0"]}, "legend": null},
      "size": {"field": "s", "type": "nominal", "scale": {"domain": ["Skp", "1:1 Skp:tOmpA", "1:1 Skp:PagP", "1:1 Skp:OmpT", "1:1 Skp:OmpF", "1:1 Skp:tBamA", "2:1 Skp:OmpT", "2:1 Skp:OmpF", "2:1 Skp:tBamA"], "range": [18, 22, 22, 22, 22, 22, 30, 30, 30]}, "legend": null}}},
    {"mark": {"type": "text", "align": "left", "dx": 10, "fontSize": 13}, "encoding": {"text": {"field": "s"}}}
   ]}
 ], "spacing": 51, "bounds": "flush", "resolve": {"scale": {"stroke": "independent", "color": "independent", "fill": "independent", "shape": "independent", "size": "independent"}}}
]
}
